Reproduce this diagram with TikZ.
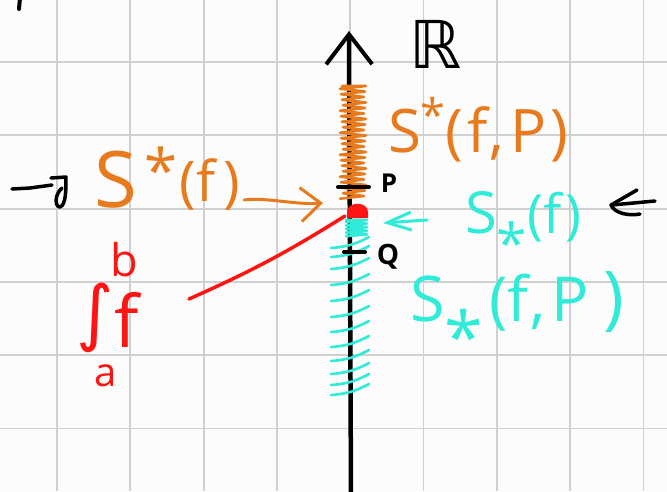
\documentclass[tikz,border=0pt]{standalone}
\usepackage{fontspec}
\setmainfont{Open Sans}
\newfontfamily\symfont{DejaVu Sans}
\usetikzlibrary{arrows.meta}
\definecolor{orng}{RGB}{232,122,30}
\definecolor{tealc}{RGB}{48,235,215}
\definecolor{redc}{RGB}{255,20,20}
\definecolor{gridc}{RGB}{208,208,208}
\definecolor{bgc}{RGB}{252,252,252}
\newcommand\fsz[1]{\fontsize{#1}{#1}\selectfont}
\begin{document}
\begin{tikzpicture}[x=1pt,y=-1pt,
  gridline/.style={gridc,line width=1.8},
  axisline/.style={black,line width=4.5,line cap=round},
  pen/.style={line width=#1,line cap=round,line join=round},
  pen/.default=3,
  lbl/.style={anchor=base west,inner sep=0pt,outer sep=0pt}]
\useasboundingbox (0,0) rectangle (667,491);
\fill[bgc] (0,0) rectangle (667,491);
% grid
\foreach \k in {-1,...,8} \draw[gridline] ({57+73.3*\k},0) -- ({57+73.3*\k},491);
\foreach \k in {-1,...,6} \draw[gridline] (0,{62+73.3*\k}) -- (667,{62+73.3*\k});
% axis
\coordinate (axbot) at (351,496);
\coordinate (axtop) at (349,31);
\draw[axisline,-{Straight Barb[length=30pt,width=46pt,line width=4pt]}] (axbot) -- (axtop);
\node[font=\symfont\fsz{66},inner sep=0pt,anchor=base] (rlab) at (436,68) {ℝ};
% orange coil
\draw[orng,pen=2.6] (342,86) \foreach \i in {0,...,20} { -- ({366-mod(\i,3)},{86+\i*5.5}) -- ({340+mod(\i,4)},{88.7+\i*5.5}) };
% P tick
\draw[black,pen=4] (338,187) -- (369,187);
\node[font=\fsz{26}\bfseries] (plab) at (389,183) {P};
% teal dense part
\draw[tealc,pen=2.6] (346,220) \foreach \i in {0,...,4} { -- (367,{220+\i*3.6}) -- (346,{221.8+\i*3.6}) };
% teal strokes
\foreach \y in {243,252,264,280,296,312,327,342,356,369,380,390}
  \draw[tealc,pen=2.6] (331,{\y+5}) to[bend right=12] (369,{\y-6});
% Q tick
\draw[black,pen=4] (344,252) -- (365,252);
\node[font=\fsz{28}\bfseries] (qlab) at (388,257) {Q};
% red blob
\fill[redc] (347,218) -- (347,212) .. controls (347,201) and (368,201) .. (368,212) -- (368,218) -- cycle;
\coordinate (blob) at (357,211);
% labels
\node[lbl,text=orng] (supf) at (94,207) {\fsz{78}S\hspace{8pt}\fsz{60}\raisebox{0.25em}[0pt][0pt]{*}\hspace{2pt}\fsz{56}\raisebox{0.1em}{(f\hspace{8pt})}};
\node[lbl,text=orng] (supfp) at (388,152) {\fsz{60}S\fsz{45}\raisebox{0.45em}[0pt][0pt]{*}\fsz{60}(\hspace{4pt}f\hspace{2pt},\hspace{6pt}P\hspace{4pt})};
\node[lbl,text=tealc] (subf) at (465,233) {\fsz{58}S\fsz{55}\raisebox{-0.55em}[0pt][0pt]{*}\fsz{54}(f\hspace{4pt})};
\node[lbl,text=tealc] (subfp) at (410,321) {\fsz{63}S\fsz{70}\raisebox{-0.59em}[0pt][0pt]{*}\fsz{62}\hspace{6pt}(f\hspace{2pt},\hspace{6pt}P\hspace{14pt}\fsz{70})};
% integral
\node[text=redc,font=\symfont\fsz{72},inner sep=0pt] (intsign) at (95,318) {∫};
\node[text=redc,font=\fsz{45},inner sep=0pt] (intb) at (124,260) {b};
\node[text=redc,font=\fsz{72},inner sep=0pt] (intf) at (127,320) {f};
\node[text=redc,font=\fsz{40},inner sep=0pt] (inta) at (106,376) {a};
% connectors
\coordinate (oatip) at (323,203);
\draw[orng,pen=3,-{Straight Barb[length=20pt,width=34pt,line width=3pt]}] ([shift={(4,-7)}]supf.base east) .. controls (265,197) and (295,205) .. (oatip);
\coordinate (tatip) at (383,223);
\draw[tealc,pen=3,-{Straight Barb[length=24pt,width=18pt,line width=3pt]}] ([shift={(-38,-13)}]subf.base west) -- (tatip);
\coordinate (redstart) at (345,216);
\coordinate (redend) at (189,299);
\draw[redc,pen=3.5] (redstart) to[bend left=4] (redend);
% black marks
\draw[black,pen=3.5] (12,189) -- (30,188) -- (52,185);
\draw[black,pen=3.5] (51,178) -- (66,177) .. controls (66,190) and (66,205) .. (60,207) .. controls (55,207) and (54,195) .. (62,188);
\draw[black,pen=3.5] (655,201) -- (612,205);
\draw[black,pen=3.5] (637,190) -- (611,205) .. controls (615,214) and (630,216) .. (640,214);
\draw[black,pen=4] (20,-2) -- (19,9);
\end{tikzpicture}
\end{document}
